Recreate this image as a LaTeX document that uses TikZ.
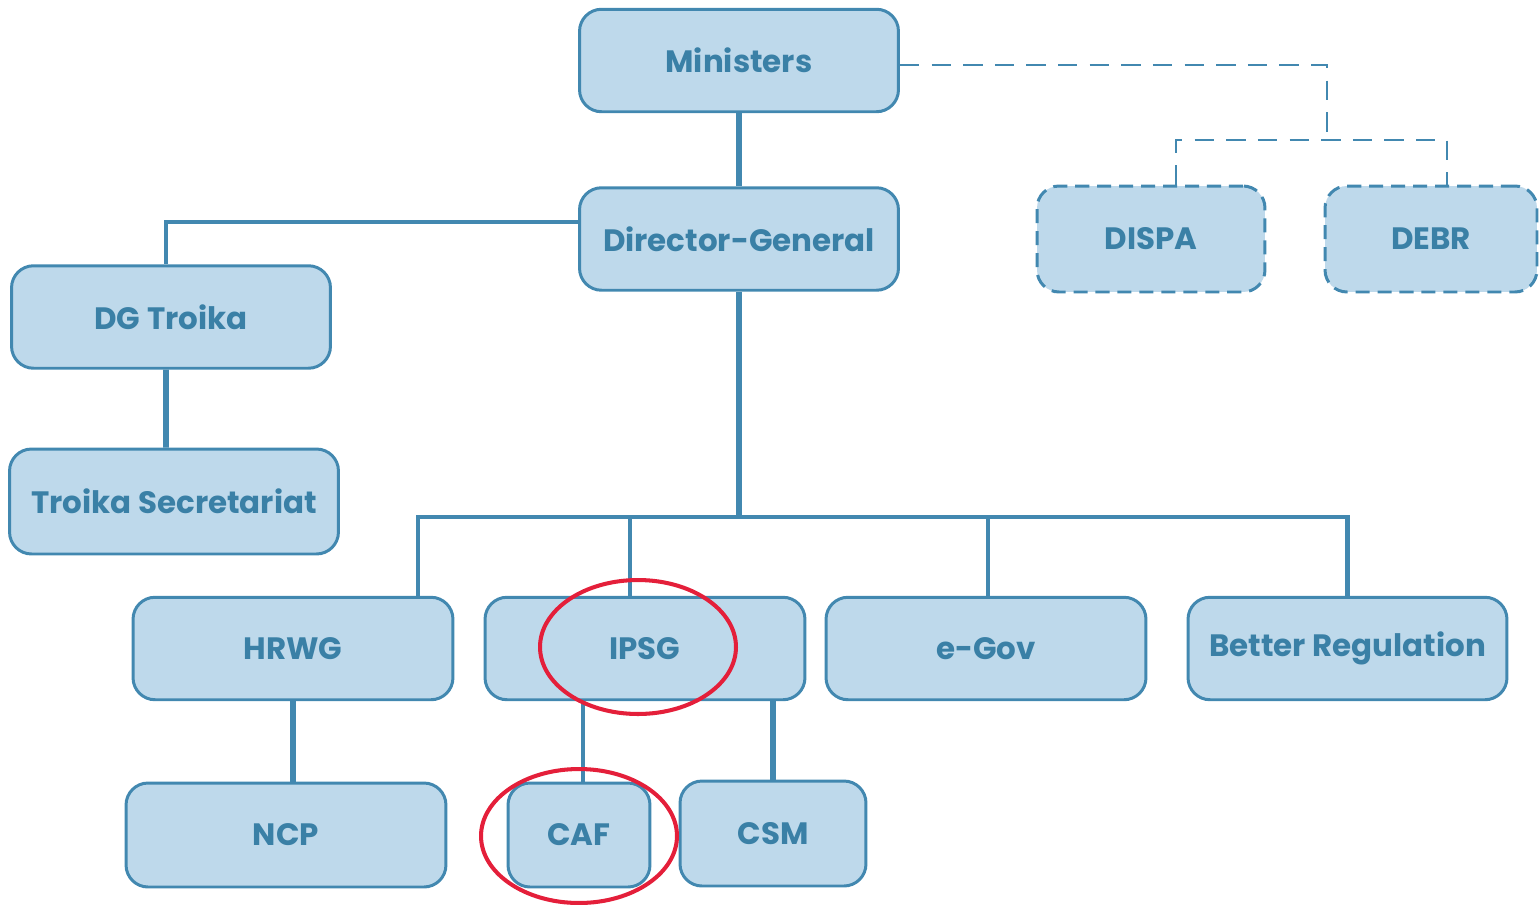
\documentclass[tikz,border=0pt]{standalone}
\usepackage{fontspec}
\setmainfont{Poppins}
\usepackage{xcolor}
\definecolor{orgfill}{HTML}{BED9EB}
\definecolor{orgline}{HTML}{4288B0}
\definecolor{orgtext}{HTML}{3A80A6}
\definecolor{hired}{HTML}{E41F3A}
\usepackage{tikz}
\usetikzlibrary{positioning, calc, shapes.geometric}

\begin{document}
\begin{tikzpicture}[x=0.02cm, y=-0.02cm,
  unit/.style={draw=orgline, line width=1.7pt, rounded corners=0.44cm, fill=orgfill,
               minimum width=6.38cm, minimum height=2.05cm, inner sep=2pt,
               font=\bfseries\fontsize{17.6}{20}\selectfont, text=orgtext},
  ext/.style={unit, dash pattern=on 8pt off 4.5pt},
  link/.style={draw=orgline, line width=2.3pt},
  trunk/.style={draw=orgline, line width=3.4pt},
  dlink/.style={draw=orgline, line width=1.2pt, dash pattern=on 11pt off 7pt},
  hilite/.style={draw=hired, line width=2.3pt, ellipse, minimum width=3.92cm, minimum height=2.68cm}]
  \useasboundingbox (0,0) rectangle (1539,904);
  % top levels
  \node[unit] (min)    at (739,60.5)   {Ministers};
  \node[unit] (dg)     at (739,239)    {Director-General};
  \node[unit] (troika) at (171,317)    {DG Troika};
  \node[unit, minimum width=6.58cm, minimum height=2.1cm] (secr) at (174,501.5) {Troika Secretariat};
  \node[ext, minimum width=4.56cm, minimum height=2.12cm] (dispa) at (1151,239) {DISPA};
  \node[ext, minimum width=4.24cm, minimum height=2.12cm] (debr)  at (1431,239) {DEBR};
  % working groups
  \node[unit, minimum width=6.4cm] (hrwg)   at (293,648.5)    {HRWG};
  \node[unit, minimum width=6.4cm] (ipsg)   at (645,648.5)    {IPSG};
  \node[unit, minimum width=6.4cm] (egov)   at (986,648.5)    {e-Gov};
  \node[unit, minimum width=6.38cm] (better) at (1347.5,648.5) {Better Regulation};
  \node[unit, minimum width=6.4cm, minimum height=2.08cm] (ncp) at (286,835)  {NCP};
  \node[unit, minimum width=2.84cm, minimum height=2.08cm] (caf) at (579,835) {CAF};
  \node[unit, minimum width=3.72cm, minimum height=2.1cm] (csm) at (773,833.5) {CSM};
  % connectors
  \coordinate (bus) at (739,517);
  \coordinate (split) at (1327,140);
  \draw[trunk] (min.south) -- (dg.north);
  \draw[link] ([yshift=0.34cm]dg.west) -| ([xshift=-0.1cm]troika.north);
  \draw[trunk] ([xshift=-0.1cm]troika.south) -- ([xshift=-0.16cm]secr.north);
  \draw[trunk] (dg.south) -- (bus);
  \draw[link] ([xshift=2.5cm]hrwg.north) |- (bus) -| (better.north);
  \draw[link] ([xshift=-0.3cm]ipsg.north) -- ([xshift=-0.3cm]ipsg.north |- bus);
  \draw[link] ([xshift=0.04cm]egov.north) -- ([xshift=0.04cm]egov.north |- bus);
  \draw[trunk] (hrwg.south) -- (hrwg.south |- ncp.north);
  \draw[link] ([xshift=0.08cm]caf.north) -- ([xshift=0.08cm]caf.north |- ipsg.south);
  \draw[trunk] (csm.north) -- (csm.north |- ipsg.south);
  \draw[dlink] ([yshift=-0.09cm]min.east) -| (split);
  \draw[dlink] ([xshift=0.5cm]dispa.north) |- (split) -| ([xshift=0.32cm]debr.north);
  % highlights
  \node[hilite] (ipsgmark) at (638,647) {};
  \node[hilite] (cafmark)  at (579,836) {};
\end{tikzpicture}
\end{document}
